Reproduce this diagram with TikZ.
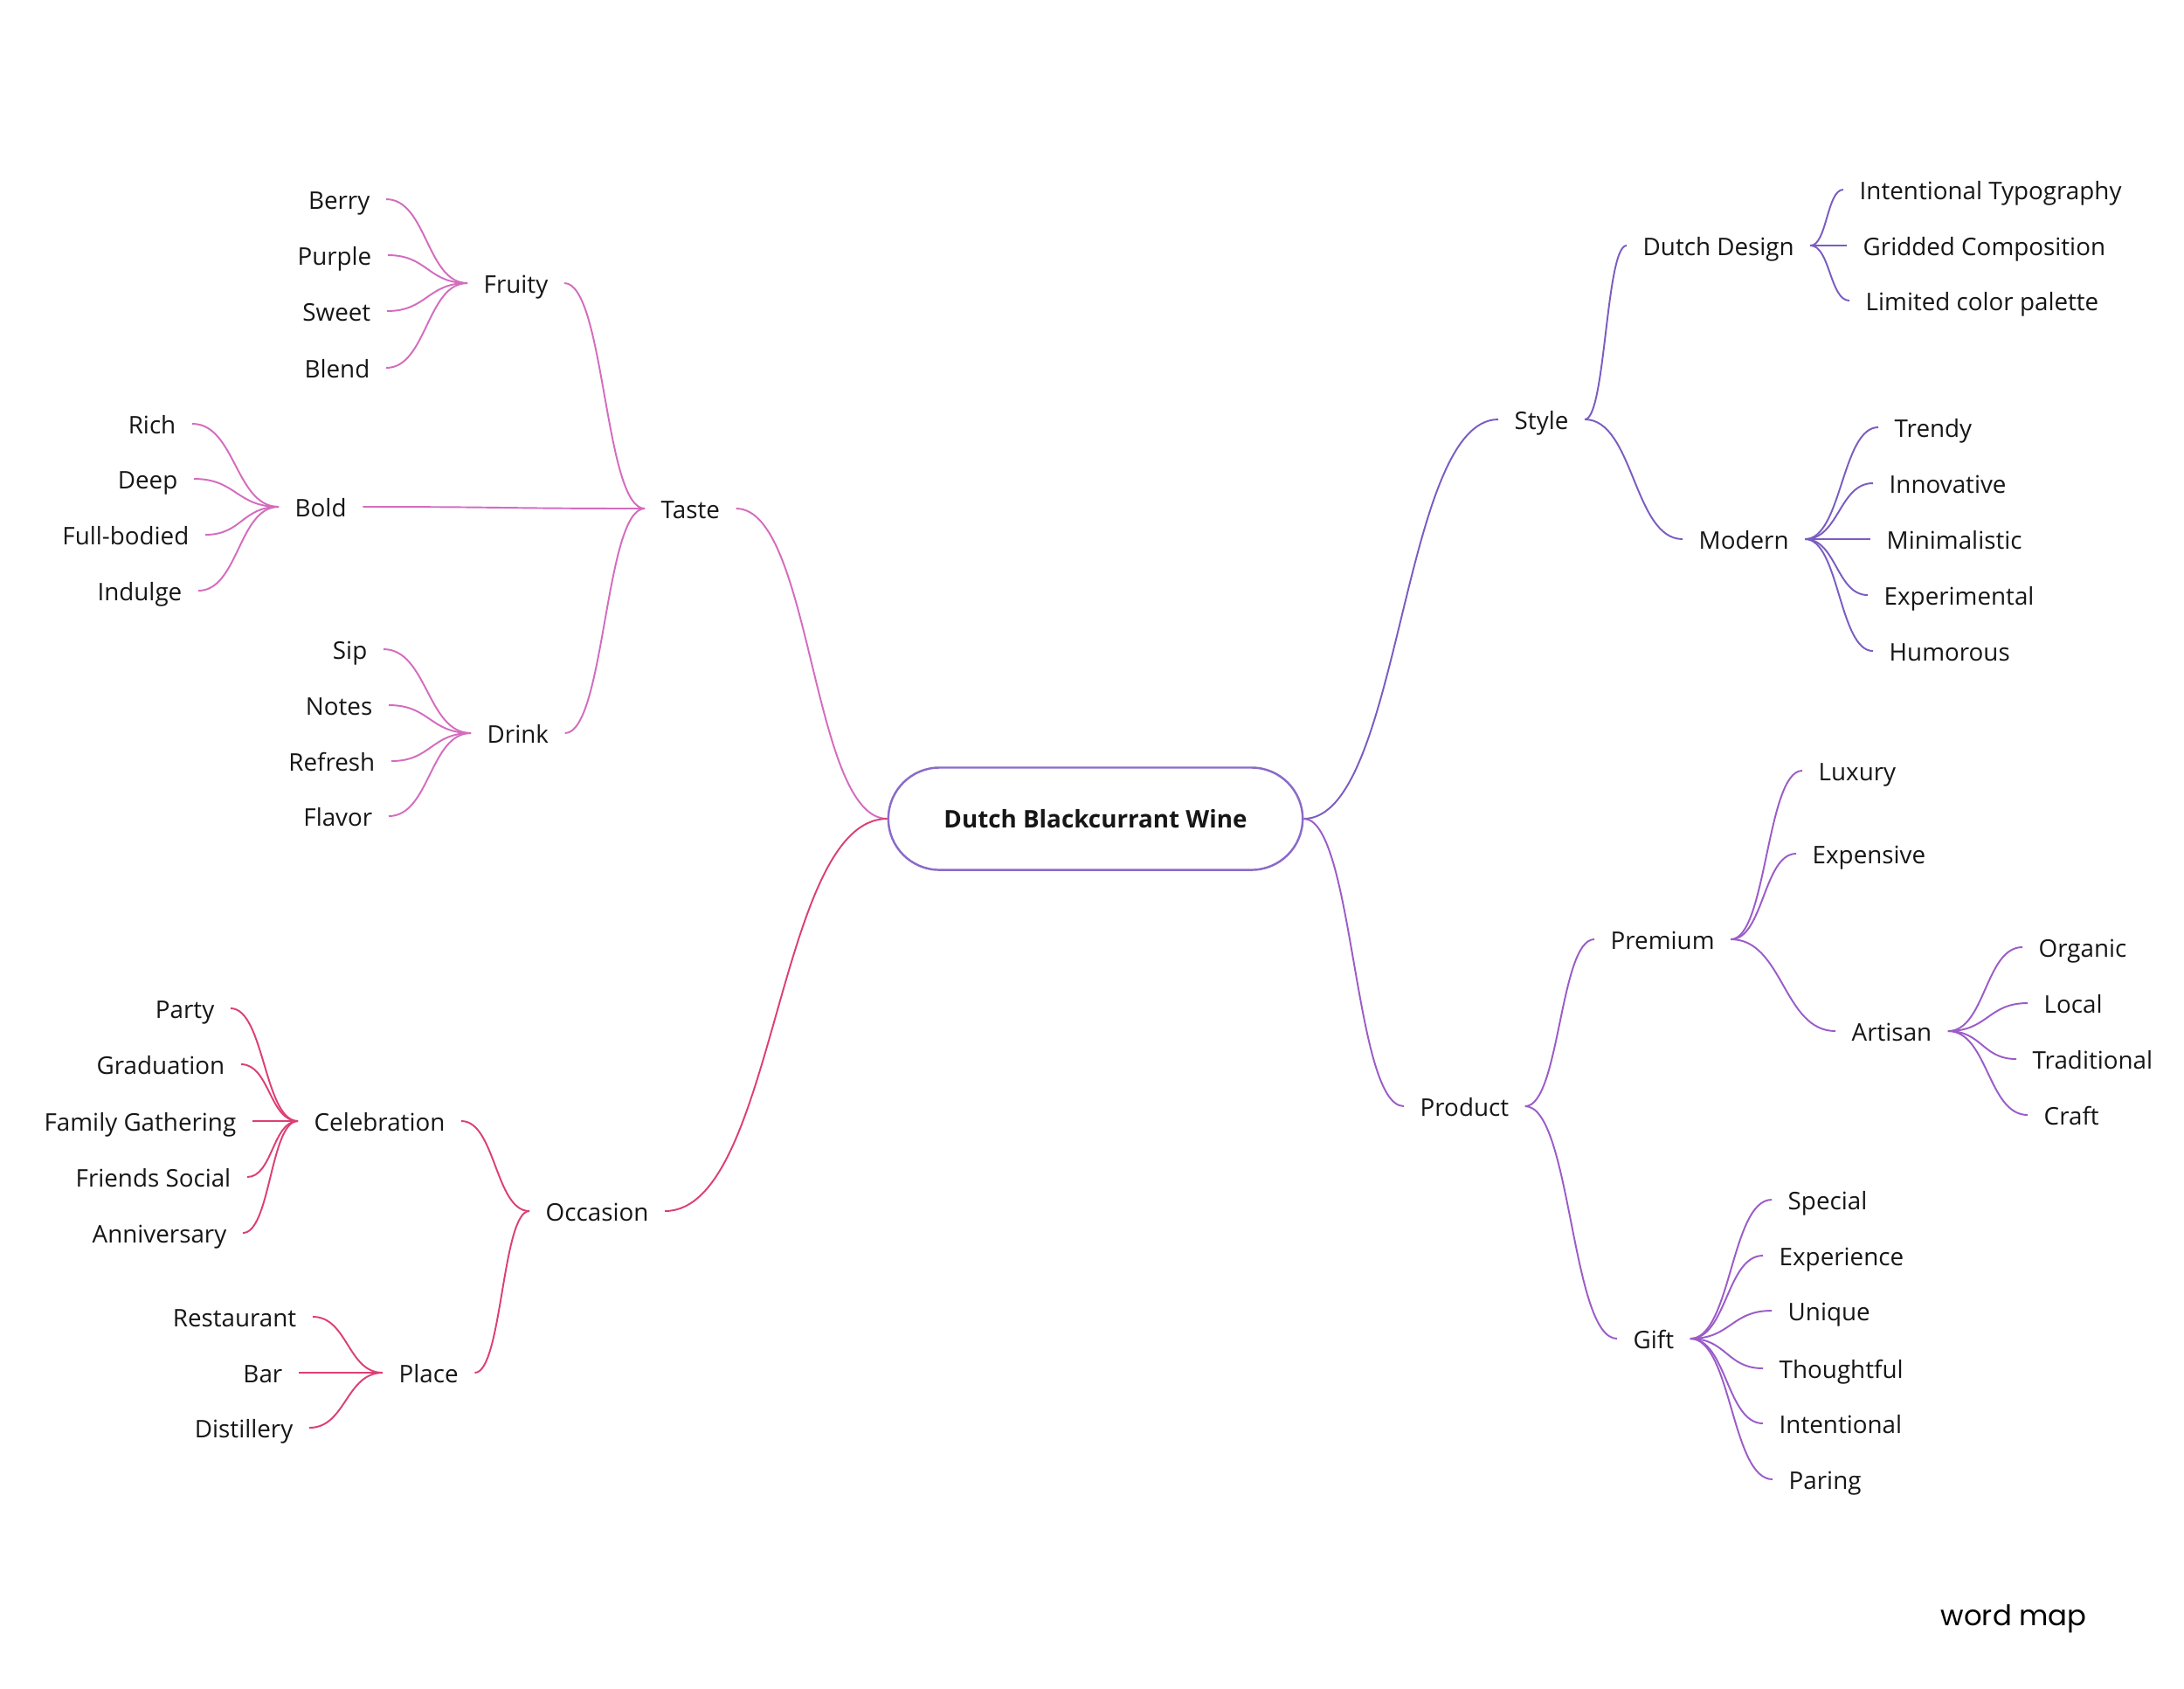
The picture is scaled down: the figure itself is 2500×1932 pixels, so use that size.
\documentclass[tikz,border=0pt]{standalone}
\usepackage{fontspec}
\setmainfont{Open Sans}
\newfontfamily\tagfont{Poppins}
\usetikzlibrary{calc}
\definecolor{taste}{HTML}{D46CBE}
\definecolor{occasion}{HTML}{DC3F74}
\definecolor{style}{HTML}{7A5CC2}
\definecolor{product}{HTML}{9B5CC8}
\definecolor{hubLine}{HTML}{8A6BC9}
\definecolor{txt}{HTML}{161616}
\tikzset{
  word/.style={
    inner xsep=0.18cm, inner ysep=1pt, text height=1.5ex, text depth=0.25ex,
    font=\fontsize{7.9}{9}\selectfont, text=txt
  },
  leafL/.style={word, anchor=east},
  leafR/.style={word, anchor=west},
  hub/.style={
    rectangle, draw=hubLine, line width=0.7pt, rounded corners=0.585cm,
    minimum width=4.74cm, minimum height=1.17cm, align=center,
    font=\bfseries\fontsize{7.9}{9}\selectfont, text=txt
  },
  twig/.style={line width=0.55pt, to path={let \p1=(\tikztostart), \p2=(\tikztotarget) in
    .. controls ({0.5*(\x1+\x2)},\y1) and ({0.5*(\x1+\x2)},\y2) .. (\tikztotarget)}}
}
\begin{document}
\begin{tikzpicture}[x=0.01cm, y=-0.01cm]
\useasboundingbox (0,0) rectangle (2500,1932);
\fill[white] (0,0) rectangle (2500,1932);

% ---------------- Centre ----------------
\node[hub] (wine) at (1254,937) {Dutch Blackcurrant Wine};

% ---------------- Taste ----------------
\node[word, anchor=west] (taste) at (738,582) {Taste};
\node[word, anchor=west] (fruity) at (535,324) {Fruity};
\node[leafL] (berry) at (442,228) {Berry};
\node[leafL] (purple) at (444,292) {Purple};
\node[leafL] (sweet) at (443,356) {Sweet};
\node[leafL] (blend) at (442,421) {Blend};
\node[word, anchor=west] (bold) at (319,580) {Bold};
\node[leafL] (rich) at (220,485) {Rich};
\node[leafL] (deep) at (222,548) {Deep};
\node[leafL] (fullbodied) at (235,612) {Full-bodied};
\node[leafL] (indulge) at (227,676) {Indulge};
\node[word, anchor=west] (drink) at (539,839) {Drink};
\node[leafL] (sip) at (439,743) {Sip};
\node[leafL] (notes) at (445,807) {Notes};
\node[leafL] (refresh) at (448,871) {Refresh};
\node[leafL] (flavor) at (445,934) {Flavor};

\begin{scope}[draw=taste]
\draw[twig] (taste.east) to (wine.west);
\draw[twig] (fruity.east) to (taste.west);
\draw[twig] (bold.east) to (taste.west);
\draw[twig] (drink.east) to (taste.west);
\draw[twig] (berry.east) to (fruity.west);
\draw[twig] (purple.east) to (fruity.west);
\draw[twig] (sweet.east) to (fruity.west);
\draw[twig] (blend.east) to (fruity.west);
\draw[twig] (rich.east) to (bold.west);
\draw[twig] (deep.east) to (bold.west);
\draw[twig] (fullbodied.east) to (bold.west);
\draw[twig] (indulge.east) to (bold.west);
\draw[twig] (sip.east) to (drink.west);
\draw[twig] (notes.east) to (drink.west);
\draw[twig] (refresh.east) to (drink.west);
\draw[twig] (flavor.east) to (drink.west);
\end{scope}

% ---------------- Occasion ----------------
\node[word, anchor=west] (occasion) at (606,1386) {Occasion};
\node[word, anchor=west] (celebration) at (341,1283) {Celebration};
\node[leafL] (party) at (264,1154) {Party};
\node[leafL] (graduation) at (276,1218) {Graduation};
\node[leafL] (family) at (289,1283) {Family Gathering};
\node[leafL] (friends) at (283,1347) {Friends Social};
\node[leafL] (anniversary) at (278,1411) {Anniversary};
\node[word, anchor=west] (place) at (438,1571) {Place};
\node[leafL] (restaurant) at (358,1507) {Restaurant};
\node[leafL] (bar) at (342,1571) {Bar};
\node[leafL] (distillery) at (354,1634) {Distillery};

\begin{scope}[draw=occasion]
\draw[twig] (occasion.east) to (wine.west);
\draw[twig] (celebration.east) to (occasion.west);
\draw[twig] (place.east) to (occasion.west);
\draw[twig] (party.east) to (celebration.west);
\draw[twig] (graduation.east) to (celebration.west);
\draw[twig] (family.east) to (celebration.west);
\draw[twig] (friends.east) to (celebration.west);
\draw[twig] (anniversary.east) to (celebration.west);
\draw[twig] (restaurant.east) to (place.west);
\draw[twig] (bar.east) to (place.west);
\draw[twig] (distillery.east) to (place.west);
\end{scope}

% ---------------- Style ----------------
\node[word, anchor=west] (style) at (1715,480) {Style};
\node[word, anchor=west] (dutch) at (1862,281) {Dutch Design};
\node[leafR] (typo) at (2110,217) {Intentional Typography};
\node[leafR] (grid) at (2114,281) {Gridded Composition};
\node[leafR] (palette) at (2117,344) {Limited color palette};
\node[word, anchor=west] (modern) at (1926,617) {Modern};
\node[leafR] (trendy) at (2150,489) {Trendy};
\node[leafR] (innovative) at (2144,553) {Innovative};
\node[leafR] (minimal) at (2141,617) {Minimalistic};
\node[leafR] (experimental) at (2138,681) {Experimental};
\node[leafR] (humorous) at (2144,745) {Humorous};

\begin{scope}[draw=style]
\draw[twig] (wine.east) to (style.west);
\draw[twig] (style.east) to (dutch.west);
\draw[twig] (style.east) to (modern.west);
\draw[twig] (dutch.east) to (typo.west);
\draw[twig] (dutch.east) to (grid.west);
\draw[twig] (dutch.east) to (palette.west);
\draw[twig] (modern.east) to (trendy.west);
\draw[twig] (modern.east) to (innovative.west);
\draw[twig] (modern.east) to (minimal.west);
\draw[twig] (modern.east) to (experimental.west);
\draw[twig] (modern.east) to (humorous.west);
\end{scope}

% ---------------- Product ----------------
\node[word, anchor=west] (product) at (1607,1266) {Product};
\node[word, anchor=west] (premium) at (1825,1075) {Premium};
\node[leafR] (luxury) at (2063,882) {Luxury};
\node[leafR] (expensive) at (2056,977) {Expensive};
\node[word, anchor=west] (artisan) at (2101,1180) {Artisan};
\node[leafR] (organic) at (2315,1084) {Organic};
\node[leafR] (local) at (2321,1148) {Local};
\node[leafR] (traditional) at (2308,1212) {Traditional};
\node[leafR] (craft) at (2321,1276) {Craft};
\node[word, anchor=west] (gift) at (1851,1532) {Gift};
\node[leafR] (special) at (2028,1373) {Special};
\node[leafR] (experience) at (2018,1437) {Experience};
\node[leafR] (unique) at (2028,1500) {Unique};
\node[leafR] (thoughtful) at (2018,1566) {Thoughtful};
\node[leafR] (intentional) at (2018,1629) {Intentional};
\node[leafR] (paring) at (2029,1693) {Paring};

\begin{scope}[draw=product]
\draw[twig] (wine.east) to (product.west);
\draw[twig] (product.east) to (premium.west);
\draw[twig] (product.east) to (gift.west);
\draw[twig] (premium.east) to (luxury.west);
\draw[twig] (premium.east) to (expensive.west);
\draw[twig] (premium.east) to (artisan.west);
\draw[twig] (artisan.east) to (organic.west);
\draw[twig] (artisan.east) to (local.west);
\draw[twig] (artisan.east) to (traditional.west);
\draw[twig] (artisan.east) to (craft.west);
\draw[twig] (gift.east) to (special.west);
\draw[twig] (gift.east) to (experience.west);
\draw[twig] (gift.east) to (unique.west);
\draw[twig] (gift.east) to (thoughtful.west);
\draw[twig] (gift.east) to (intentional.west);
\draw[twig] (gift.east) to (paring.west);
\end{scope}

% ---------------- Caption ----------------
\node[anchor=west, inner sep=0pt, font=\tagfont\fontsize{9.2}{11}\selectfont, text=black] (tag) at (2221,1853) {word map};

\end{tikzpicture}
\end{document}
